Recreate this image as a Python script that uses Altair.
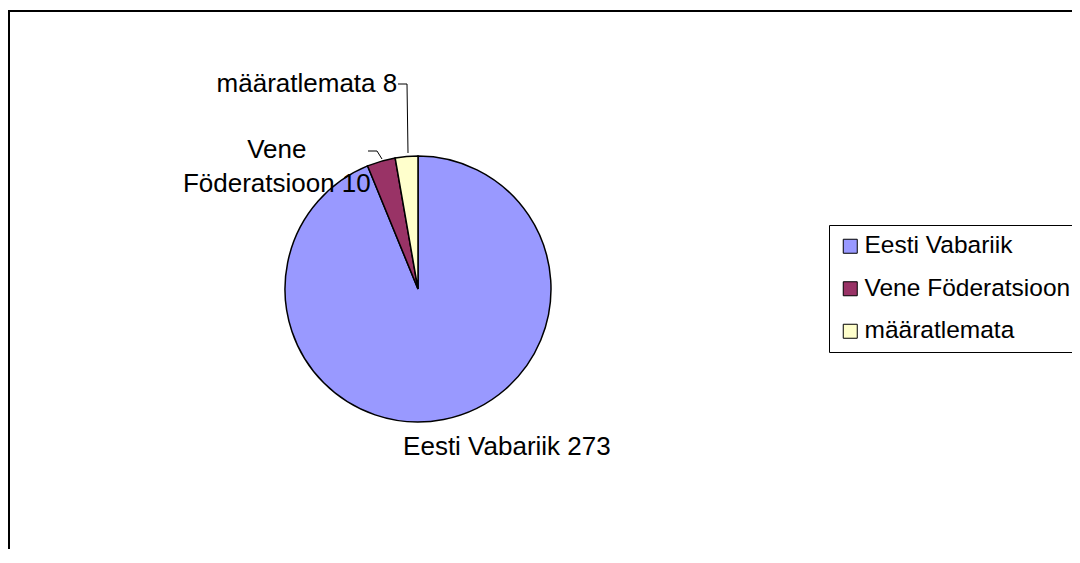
import altair as alt
import pandas as pd

categories = ["Eesti Vabariik", "Vene Föderatsioon", "määratlemata"]
values = [273, 10, 8]
order = [1, 2, 3]
colors = ["#9999FF", "#993366", "#FFFFCC"]

df = pd.DataFrame({"category": categories, "value": values, "order": order})

FONT = "Liberation Sans"
FS = 26
CX, CY, R = 409, 278, 133

base = alt.Chart(df)

pie = base.mark_arc(stroke="black", strokeWidth=1.5, outerRadius=R).encode(
    theta=alt.Theta("value:Q", stack=True),
    order=alt.Order("order:Q"),
    color=alt.Color(
        "category:N",
        scale=alt.Scale(domain=categories, range=colors),
        sort=categories,
        legend=alt.Legend(
            title=None,
            orient="none",
            legendX=820,
            legendY=214,
            symbolType="square",
            symbolSize=196,
            symbolStrokeColor="black",
            symbolStrokeWidth=1,
            labelFont=FONT,
            labelFontSize=24.5,
            labelColor="black",
            labelLimit=0,
            labelOffset=2,
            rowPadding=17.5,
            padding=9,
            strokeColor="black",
            fillColor="white",
        ),
    ),
    x=alt.value(CX),
    y=alt.value(CY),
)


def label_layer(cat, radius, dx, dy, align, text_expr, **kw):
    return (
        base.transform_joinaggregate(total="sum(value)")
        .transform_window(cum="sum(value)", sort=[alt.SortField("order")])
        .transform_calculate(
            ang="2*PI*(datum.cum - datum.value/2)/datum.total",
            label=text_expr,
        )
        .transform_filter(alt.datum.category == cat)
        .mark_text(
            font=FONT, fontSize=FS, color="black", align=align, baseline="middle",
            radius=radius, dx=dx, dy=dy, **kw
        )
        .encode(
            theta=alt.Theta("ang:Q", scale=None),
            text="label:N",
            x=alt.value(CX),
            y=alt.value(CY),
        )
    )


lab_eesti = label_layer("Eesti Vabariik", 160, 58, 1, "center",
                        "datum.category + ' ' + datum.value")
lab_vene = label_layer("Vene Föderatsioon", 145, -101, 0, "center",
                       "replace(datum.category, ' ', '\\n') + ' ' + datum.value",
                       lineBreak="\n", lineHeight=34)
lab_maar = label_layer("määratlemata", 206, -3, 0, "right",
                       "datum.category + ' ' + datum.value")

one = alt.Chart(pd.DataFrame({"k": [0]}))


def seg(x1, y1, x2, y2, w=1):
    return one.mark_rule(color="black", strokeWidth=w).encode(
        x=alt.value(x1), x2=alt.value(x2), y=alt.value(y1), y2=alt.value(y2))


leaders = alt.layer(
    seg(389, 73, 398, 73),
    seg(398, 73, 399, 142),
    seg(359, 140, 368, 140),
    seg(368, 140, 373, 148),
)

# outer chart frame: only its left and top sides are inside the picture
frame = alt.layer(
    seg(0, 0, 0, 540, 2),
    seg(-1, 0, 1063, 0, 2),
)

chart = (
    alt.layer(frame, pie, lab_eesti, lab_vene, lab_maar, leaders)
    .properties(
        width=1063,
        height=538,
        autosize=alt.AutoSizeParams(type="none"),
        padding={"left": 1, "top": 3, "right": 0, "bottom": 0},
    )
    .configure_view(stroke=None)
)

chart.save("out.html", embed_options={"renderer": "svg", "actions": False})
